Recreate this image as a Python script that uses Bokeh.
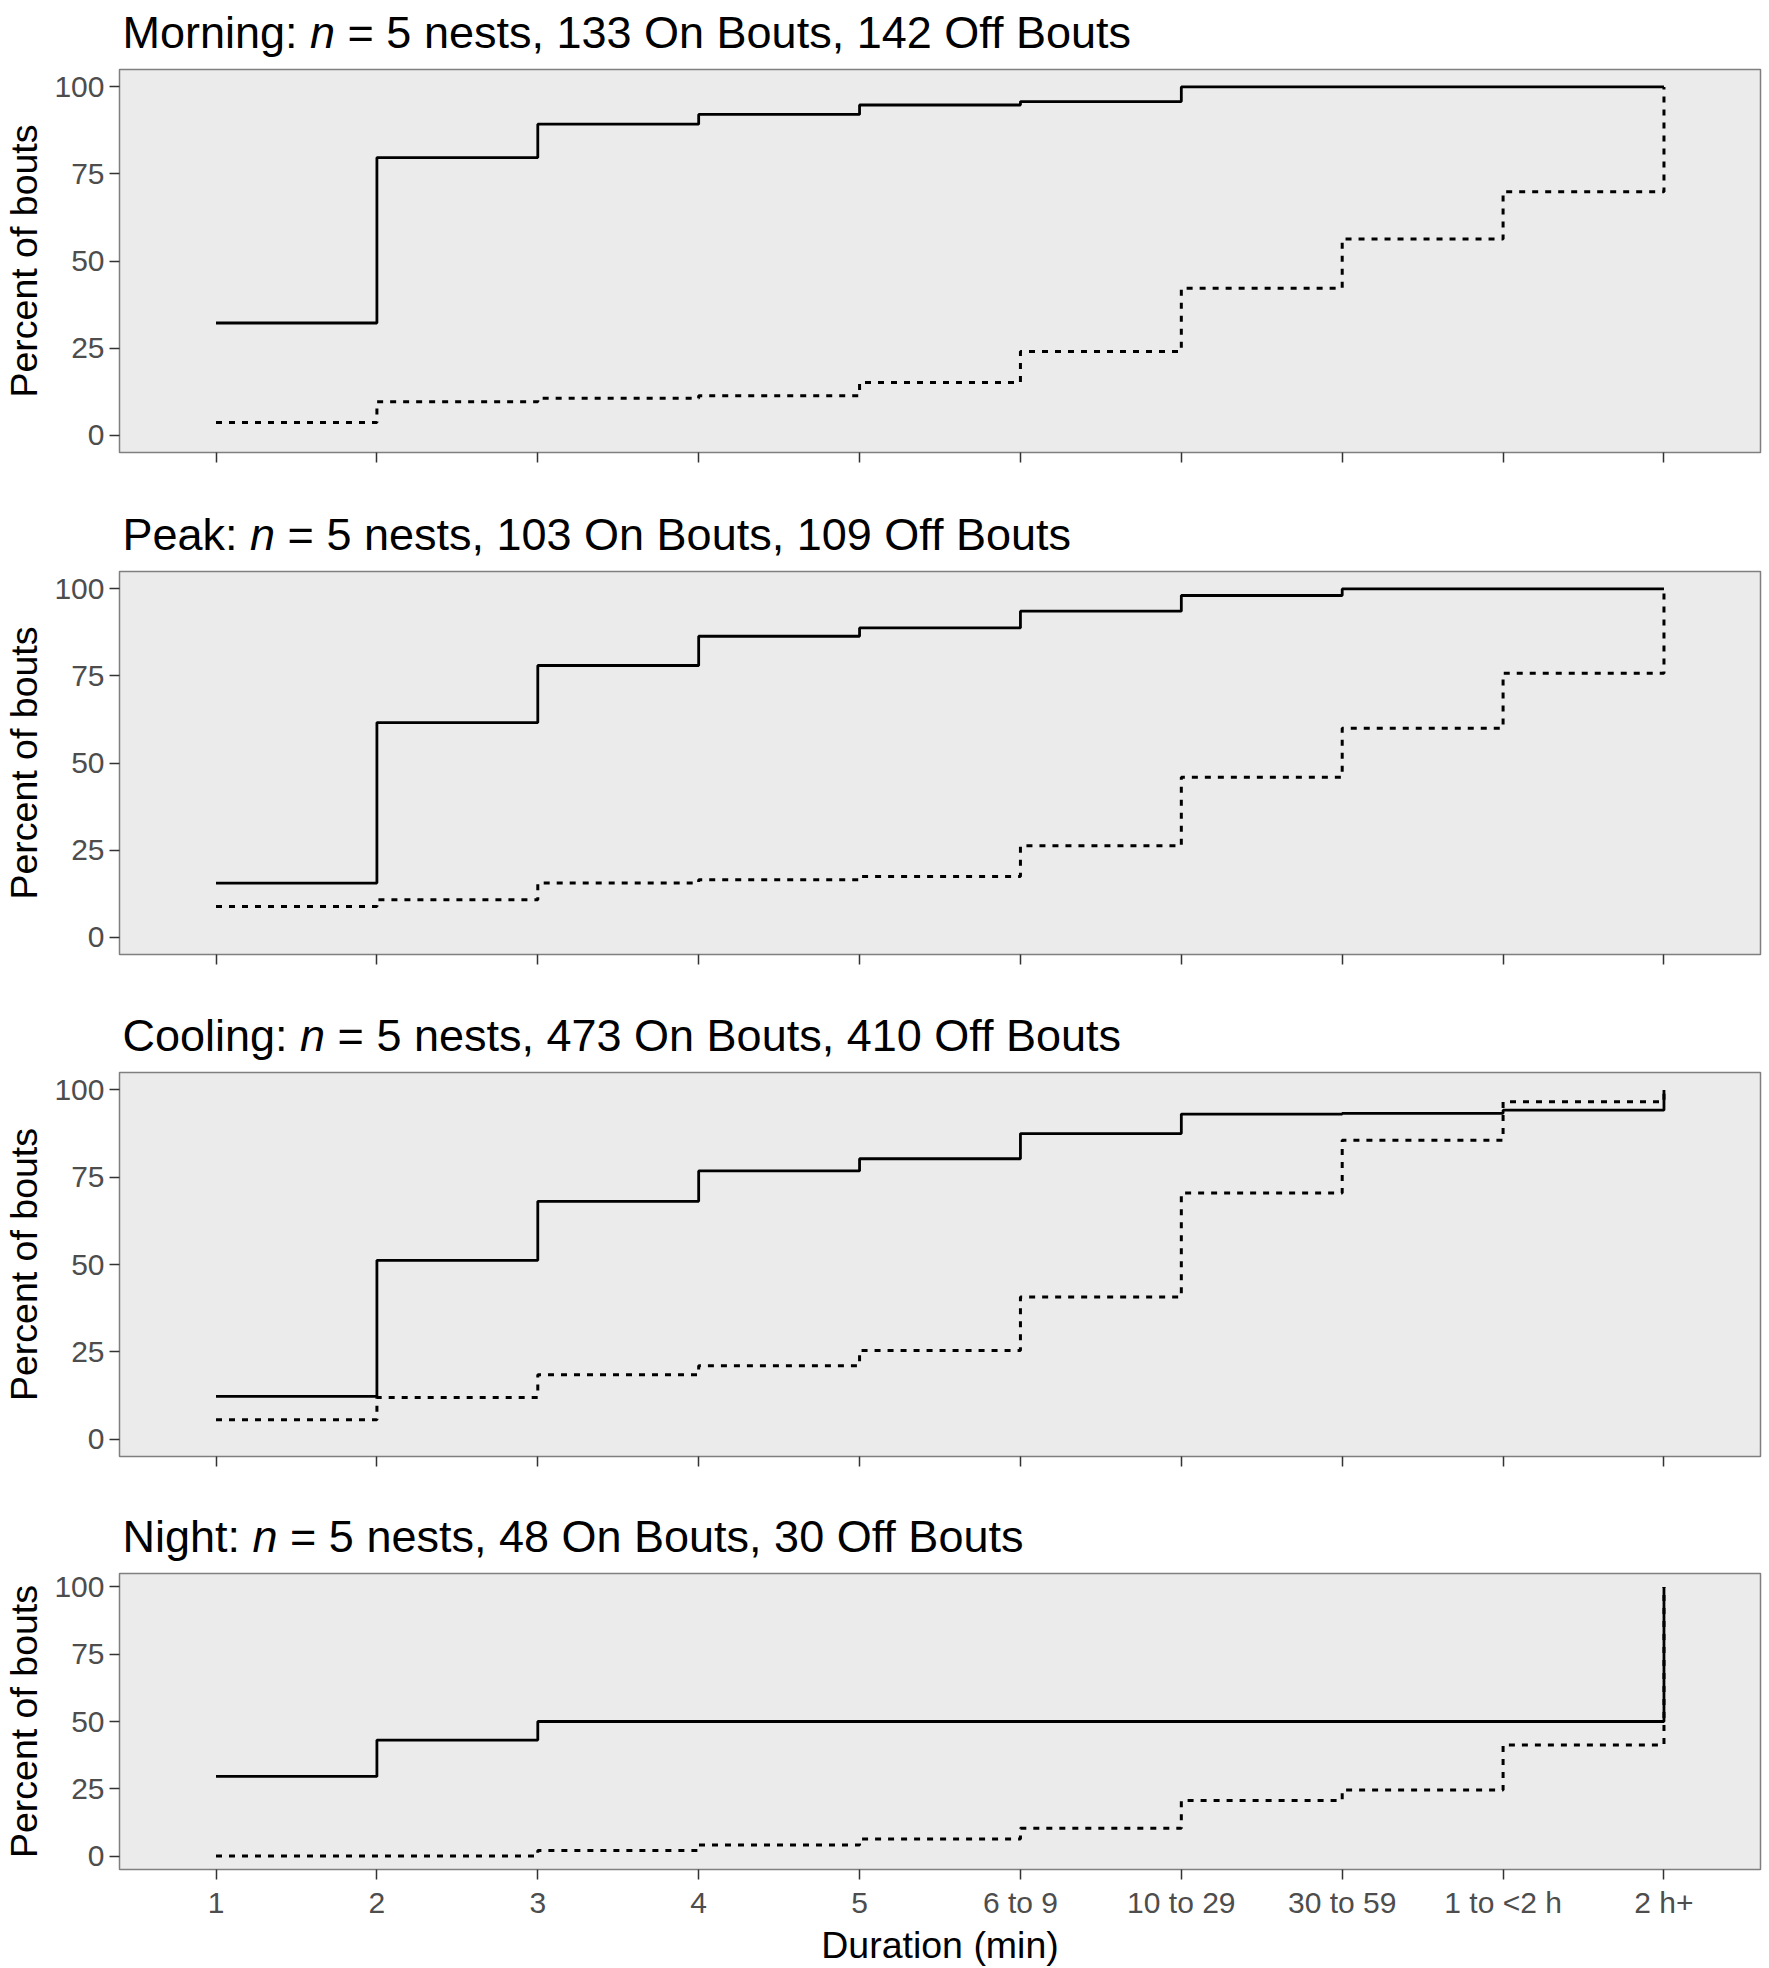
from bokeh.plotting import figure
from bokeh.models import Range1d, Label, FixedTicker
from bokeh.layouts import column
from bokeh.embed import file_html
from bokeh.resources import INLINE

# ---------------- data ----------------
categories = ["1", "2", "3", "4", "5", "6 to 9", "10 to 29", "30 to 59", "1 to <2 h", "2 h+"]
x_pos = [1, 2, 3, 4, 5, 6, 7, 8, 9, 10]
y_ticks = [0, 25, 50, 75, 100]

periods = ["Morning", "Peak", "Cooling", "Night"]
nests = [5, 5, 5, 5]
on_bouts = [133, 103, 473, 48]
off_bouts = [142, 109, 410, 30]

morning_on = [32.2, 79.7, 89.3, 92.1, 94.8, 95.8, 100, 100, 100, 100]
morning_off = [3.6, 9.6, 10.6, 11.3, 15.1, 24.0, 42.2, 56.3, 69.9, 100]
peak_on = [15.5, 61.6, 78.0, 86.4, 88.8, 93.6, 98.1, 100, 100, 100]
peak_off = [8.8, 10.7, 15.5, 16.5, 17.4, 26.2, 45.9, 60.0, 75.8, 100]
cooling_on = [12.2, 51.2, 68.1, 76.8, 80.3, 87.5, 93.1, 93.3, 94.2, 100]
cooling_off = [5.5, 11.9, 18.4, 21.0, 25.4, 40.7, 70.5, 85.6, 96.6, 100]
night_on = [29.6, 43.1, 50, 50, 50, 50, 50, 50, 50, 100]
night_off = [0, 0, 2.1, 4.1, 6.3, 10.3, 20.6, 24.5, 41.3, 100]

on_series = [morning_on, peak_on, cooling_on, night_on]
off_series = [morning_off, peak_off, cooling_off, night_off]

# ---------------- styling ----------------
FONT = "Liberation Sans"
TITLE_PX = 45
AXIS_TITLE_PX = 37.5
TICK_PX = 30
W = 1769

# Arial / Liberation Sans advance widths (per 1000 em) for title layout
ADV = {" ": 278, ",": 278, ":": 278, "=": 584, "M": 833, "P": 667, "C": 722, "N": 722,
       "O": 778, "B": 667, "a": 556, "e": 556, "f": 278, "g": 556, "h": 556, "i": 222,
       "k": 500, "l": 222, "n": 556, "o": 556, "r": 333, "s": 500, "t": 278, "u": 556}


def text_width(s, px):
    return sum(ADV.get(c, 556) for c in s) / 1000.0 * px


strip_heights = [68, 67, 67, 60]
main_tops = [1, 1, 1, 8]
main_heights = [435, 434, 434, 403]
main_bottoms = [51, 50, 49, 94]
LEFT = 119
RIGHT = 9
X_LO, X_HI = 0.4, 10.6
TITLE_MID = 37.5  # px above the panel frame top (middle of the title line)

rows = []
for i, name in enumerate(periods):
    last = i == len(periods) - 1

    # ---- title strip: same horizontal frame as the panel, vertical range in pixels ----
    sh = strip_heights[i]
    t = figure(width=W, height=sh, output_backend="svg", toolbar_location=None, title=None,
               x_range=Range1d(X_LO, X_HI), y_range=Range1d(0, sh),
               min_border_left=LEFT, min_border_right=RIGHT, min_border_top=0,
               min_border_bottom=0, x_axis_type=None, y_axis_type=None)
    t.outline_line_color = None
    t.grid.visible = False
    t.background_fill_color = "white"
    t.border_fill_color = "white"
    prefix = f"{name}:"
    suffix = f"= {nests[i]} nests, {on_bouts[i]} On Bouts, {off_bouts[i]} Off Bouts"
    sp = text_width(" ", TITLE_PX)
    off0 = 3
    off_n = off0 + text_width(prefix, TITLE_PX) + sp
    off_s = off_n + text_width("n", TITLE_PX) + sp
    common = dict(x=X_LO, y=TITLE_MID - main_tops[i], text_font=FONT,
                  text_font_size=f"{TITLE_PX}px", text_color="black",
                  text_align="left", text_baseline="middle")
    t.add_layout(Label(x_offset=off0, text=prefix, **common))
    t.add_layout(Label(x_offset=off_n, text="n", text_font_style="italic", **common))
    t.add_layout(Label(x_offset=off_s, text=suffix, **common))

    # ---- panel ----
    p = figure(width=W, height=main_heights[i], output_backend="svg", toolbar_location=None,
               x_range=Range1d(X_LO, X_HI), y_range=Range1d(-5, 105),
               min_border_left=LEFT, min_border_right=RIGHT, min_border_top=main_tops[i],
               min_border_bottom=main_bottoms[i])
    p.background_fill_color = "#EBEBEB"
    p.border_fill_color = "white"
    p.outline_line_color = "#7F7F7F"
    p.outline_line_width = 1.5
    p.grid.visible = False

    p.step(x_pos, off_series[i], mode="after", line_color="black", line_width=3,
           line_dash="6 7")
    p.step(x_pos, on_series[i], mode="after", line_color="black", line_width=2.8)

    p.xaxis.ticker = FixedTicker(ticks=x_pos)
    p.xaxis.major_label_overrides = {k: lab for k, lab in zip(x_pos, categories)}
    p.yaxis.ticker = FixedTicker(ticks=y_ticks)
    p.axis.axis_line_color = None
    p.axis.major_tick_line_color = "#333333"
    p.axis.major_tick_line_width = 1.5
    p.axis.major_tick_out = 10
    p.axis.major_tick_in = 0
    p.axis.minor_tick_line_color = None
    p.axis.major_label_text_font = FONT
    p.axis.major_label_text_font_size = f"{TICK_PX}px"
    p.axis.major_label_text_color = "#4D4D4D"
    p.yaxis.major_label_standoff = 5
    p.xaxis.major_label_standoff = 6
    if not last:
        p.xaxis.major_label_text_color = None
    else:
        p.xaxis.axis_label = "Duration (min)"
        p.xaxis.axis_label_text_font = FONT
        p.xaxis.axis_label_text_font_size = f"{AXIS_TITLE_PX}px"
        p.xaxis.axis_label_text_font_style = "normal"
        p.xaxis.axis_label_text_color = "black"
        p.xaxis.axis_label_standoff = 2

    p.yaxis.axis_label = "Percent of bouts"
    p.yaxis.axis_label_text_font = FONT
    p.yaxis.axis_label_text_font_size = f"{AXIS_TITLE_PX}px"
    p.yaxis.axis_label_text_font_style = "normal"
    p.yaxis.axis_label_text_color = "black"
    p.yaxis.axis_label_standoff = 6

    rows.extend([t, p])

layout = column(*rows, spacing=0)
open("out.html", "w").write(file_html(layout, INLINE))
